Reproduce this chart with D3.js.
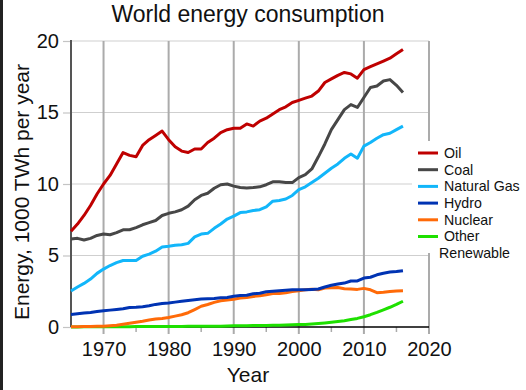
<!DOCTYPE html>
<html lang="en">
<head>
<meta charset="UTF-8">
<title>World energy consumption</title>
<script src="https://d3js.org/d3.v7.min.js"></script>
<style>
    * { margin: 0; padding: 0; }
    body { background: #fff; width: 526px; height: 390px; overflow: hidden; }
    svg { display: block; font-family: "Liberation Sans", Arial, sans-serif; }
</style>
</head>
<body>
<div id="chart"></div>
<script>
// values, 1000 TWh per year, 1965..2016
const years = d3.range(1965, 2017);

const oil = [6.7, 7.2, 7.8, 8.5, 9.3, 10.0, 10.6, 11.4, 12.2, 12.0, 11.9, 12.7, 13.1, 13.4, 13.7, 13.1, 12.6, 12.3, 12.2, 12.45,
    12.45, 12.9, 13.2, 13.6, 13.8, 13.9, 13.9, 14.2, 14.05, 14.4, 14.6, 14.9, 15.2, 15.4, 15.7, 15.85, 16.0, 16.15, 16.5, 17.1,
    17.35, 17.6, 17.8, 17.7, 17.4, 18.0, 18.2, 18.4, 18.6, 18.8, 19.1, 19.4];
const coal = [6.15, 6.2, 6.08, 6.2, 6.4, 6.5, 6.45, 6.6, 6.8, 6.8, 6.95, 7.15, 7.3, 7.45, 7.8, 7.95, 8.05, 8.2, 8.45, 8.9,
    9.2, 9.35, 9.7, 9.95, 10.0, 9.85, 9.75, 9.72, 9.75, 9.8, 9.95, 10.15, 10.15, 10.1, 10.1, 10.45, 10.65, 11.05, 11.9, 12.8,
    13.8, 14.5, 15.2, 15.55, 15.35, 16.05, 16.75, 16.85, 17.2, 17.3, 16.9, 16.4];
const gas = [2.52, 2.8, 3.05, 3.35, 3.75, 4.05, 4.3, 4.5, 4.65, 4.65, 4.65, 4.95, 5.1, 5.3, 5.6, 5.65, 5.72, 5.75, 5.85, 6.3,
    6.5, 6.55, 6.9, 7.2, 7.55, 7.75, 8.0, 8.05, 8.15, 8.2, 8.4, 8.8, 8.85, 8.95, 9.2, 9.6, 9.8, 10.1, 10.4, 10.75,
    11.1, 11.4, 11.8, 12.1, 11.8, 12.65, 12.9, 13.2, 13.45, 13.55, 13.8, 14.05];
const hydro = [0.88, 0.93, 0.98, 1.02, 1.08, 1.13, 1.18, 1.23, 1.27, 1.36, 1.38, 1.42, 1.48, 1.58, 1.64, 1.68, 1.74, 1.8, 1.86, 1.9,
    1.95, 1.98, 2.0, 2.05, 2.07, 2.15, 2.2, 2.22, 2.32, 2.36, 2.46, 2.5, 2.54, 2.57, 2.6, 2.6, 2.6, 2.63, 2.66, 2.8,
    2.92, 3.0, 3.07, 3.22, 3.22, 3.42, 3.48, 3.65, 3.76, 3.84, 3.88, 3.94];
const nuclear = [0.01, 0.02, 0.03, 0.04, 0.05, 0.06, 0.09, 0.13, 0.19, 0.26, 0.33, 0.4, 0.49, 0.56, 0.6, 0.66, 0.76, 0.86, 1.0, 1.22,
    1.45, 1.57, 1.72, 1.83, 1.88, 1.94, 2.03, 2.06, 2.14, 2.18, 2.26, 2.34, 2.34, 2.4, 2.48, 2.53, 2.6, 2.64, 2.6, 2.72,
    2.74, 2.76, 2.68, 2.66, 2.63, 2.7, 2.6, 2.4, 2.43, 2.49, 2.52, 2.53];
const renewable = [0.0, 0.0, 0.01, 0.01, 0.01, 0.01, 0.02, 0.02, 0.02, 0.02, 0.03, 0.03, 0.03, 0.03, 0.03, 0.04, 0.04, 0.04, 0.05, 0.05,
    0.05, 0.06, 0.06, 0.06, 0.07, 0.08, 0.08, 0.09, 0.1, 0.1, 0.11, 0.12, 0.13, 0.14, 0.15, 0.17, 0.18, 0.21, 0.24, 0.28,
    0.33, 0.38, 0.44, 0.52, 0.6, 0.72, 0.86, 1.02, 1.2, 1.38, 1.58, 1.8];

const seriesNames = ["Oil", "Coal", "Natural Gas", "Hydro", "Nuclear", "Other\nRenewable"];
const seriesValues = [oil, coal, gas, hydro, nuclear, renewable];
const seriesColors = ["#bf0000", "#474747", "#12b6fa", "#0033b3", "#ff6a08", "#1ee000"];

const yTicks = [0, 5, 10, 15, 20];
const xMajor = [1970, 1980, 1990, 2000, 2010, 2020];
const xMinor = [1975, 1985, 1995, 2005, 2015];

const W = 526, H = 390;
const plotLeft = 71, plotRight = 429, plotTop = 41, plotBottom = 327;

const svg = d3.select("#chart").append("svg")
    .attr("width", W)
    .attr("height", H);

// dark strip on the left edge of the screenshot
svg.append("rect").attr("x", 0).attr("y", 0).attr("width", 3).attr("height", H).attr("fill", "#222");

const x = d3.scaleLinear().domain([1965, 2020]).range([plotLeft, plotRight]);
const y = d3.scaleLinear().domain([0, 20]).range([plotBottom, plotTop]);

// horizontal grid
svg.append("g").selectAll("line")
    .data(yTicks.filter(d => d > 0))
    .join("line")
    .attr("x1", plotLeft).attr("x2", plotRight)
    .attr("y1", d => y(d)).attr("y2", d => y(d))
    .attr("stroke", "#cfcfcf").attr("stroke-width", 1.2);

// vertical grid, runs a little below the axis
svg.append("g").selectAll("line")
    .data(xMajor)
    .join("line")
    .attr("x1", d => x(d)).attr("x2", d => x(d))
    .attr("y1", plotTop).attr("y2", plotBottom + 7)
    .attr("stroke", "#ababab").attr("stroke-width", 2);

svg.append("g").selectAll("line")
    .data(xMinor)
    .join("line")
    .attr("x1", d => x(d)).attr("x2", d => x(d))
    .attr("y1", plotBottom).attr("y2", plotBottom + 5)
    .attr("stroke", "#ababab").attr("stroke-width", 1.5);

// y axis
const yAxis = svg.append("g")
    .attr("transform", `translate(${plotLeft},0)`)
    .call(d3.axisLeft(y).tickValues(yTicks).tickSize(8).tickPadding(4));
yAxis.select(".domain").remove();
yAxis.selectAll(".tick line").attr("stroke", "#c4c4c4").attr("stroke-width", 1.2);
yAxis.selectAll(".tick text")
    .attr("font-size", 20).attr("fill", "#111").attr("font-family", "Liberation Sans, Arial, sans-serif");
svg.append("line")
    .attr("x1", plotLeft).attr("x2", plotLeft).attr("y1", plotTop - 1).attr("y2", plotBottom)
    .attr("stroke", "#555").attr("stroke-width", 2);

// x axis
const xAxis = svg.append("g")
    .attr("transform", `translate(0,${plotBottom})`)
    .call(d3.axisBottom(x).tickValues(xMajor).tickFormat(d3.format("d")).tickSize(0).tickPadding(15));
xAxis.select(".domain").remove();
xAxis.selectAll(".tick text")
    .attr("font-size", 20).attr("fill", "#111").attr("font-family", "Liberation Sans, Arial, sans-serif");
svg.append("line")
    .attr("x1", plotLeft).attr("x2", plotRight).attr("y1", plotBottom).attr("y2", plotBottom)
    .attr("stroke", "#000").attr("stroke-width", 1.5);

// lines, drawn from the bottom series up
const line = d3.line()
    .x((d, i) => x(years[i]))
    .y(d => y(d));

const order = d3.range(seriesValues.length).reverse();
svg.append("g").selectAll("path")
    .data(order)
    .join("path")
    .attr("d", i => line(seriesValues[i]))
    .attr("fill", "none")
    .attr("stroke", i => seriesColors[i])
    .attr("stroke-width", 3)
    .attr("stroke-linejoin", "round");

// legend
svg.append("rect")
    .attr("x", 412).attr("y", 141).attr("width", W - 412).attr("height", 112)
    .attr("fill", "#fff");

const legend = svg.append("g");
const rowY = [153, 169.7, 186.4, 203.1, 219.8, 236.5];
seriesNames.forEach((name, i) => {
    legend.append("line")
        .attr("x1", 418).attr("x2", 438)
        .attr("y1", rowY[i]).attr("y2", rowY[i])
        .attr("stroke", seriesColors[i]).attr("stroke-width", 3);
    name.split("\n").forEach((p, j) => {
        legend.append("text")
            .attr("x", j === 0 ? 444 : 439)
            .attr("y", rowY[i] + j * 16.5)
            .attr("dy", "0.35em")
            .attr("font-size", 14.2)
            .attr("fill", "#111")
            .text(p);
    });
});

// titles
svg.append("text")
    .attr("x", 248).attr("y", 22)
    .attr("text-anchor", "middle")
    .attr("font-size", 23)
    .attr("fill", "#111")
    .text("World energy consumption");

svg.append("text")
    .attr("transform", "translate(29,192) rotate(-90)")
    .attr("text-anchor", "middle")
    .attr("font-size", 21)
    .attr("fill", "#111")
    .text("Energy, 1000 TWh per year");

svg.append("text")
    .attr("x", 248).attr("y", 382)
    .attr("text-anchor", "middle")
    .attr("font-size", 21)
    .attr("fill", "#111")
    .text("Year");
</script>
</body>
</html>
